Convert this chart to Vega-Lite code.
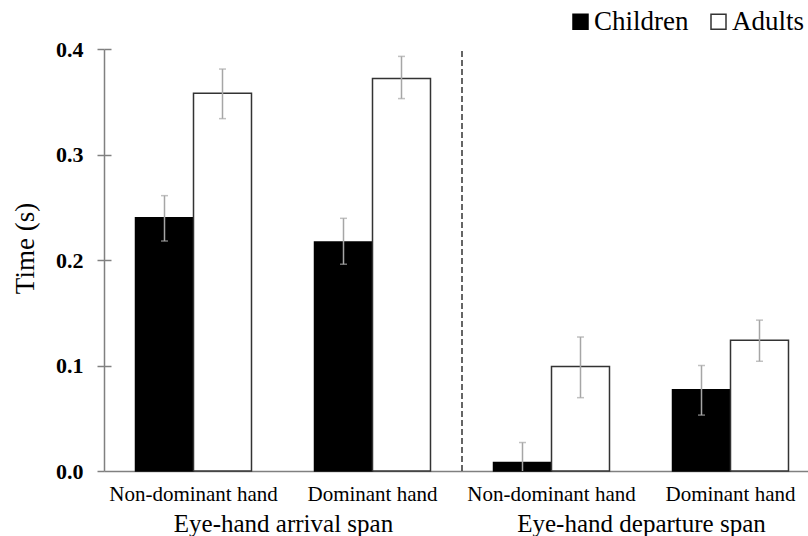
{
  "$schema": "https://vega.github.io/schema/vega-lite/v6.json",
  "width": 716,
  "height": 422,
  "autosize": {"type": "none"},
  "padding": {"left": 104, "top": 49, "right": 0, "bottom": 65},
  "background": "white",
  "config": {
    "font": "Liberation Serif",
    "view": {"stroke": null},
    "axis": {"grid": false, "domainColor": "#808080", "domainWidth": 1.5, "tickColor": "#808080", "tickWidth": 1.5, "labelColor": "black", "titleColor": "black", "labelFont": "Liberation Serif", "titleFont": "Liberation Serif"},
    "legend": {"labelFont": "Liberation Serif"}
  },
  "data": {"values": [
    {"cond": "Non-dominant hand|arrival", "group": "Children", "mean": 0.240, "lo": 0.218, "hi": 0.261},
    {"cond": "Non-dominant hand|arrival", "group": "Adults", "mean": 0.358, "lo": 0.334, "hi": 0.381},
    {"cond": "Dominant hand|arrival", "group": "Children", "mean": 0.217, "lo": 0.196, "hi": 0.2395},
    {"cond": "Dominant hand|arrival", "group": "Adults", "mean": 0.372, "lo": 0.353, "hi": 0.393},
    {"cond": "Non-dominant hand|departure", "group": "Children", "mean": 0.008, "lo": 0.0, "hi": 0.027},
    {"cond": "Non-dominant hand|departure", "group": "Adults", "mean": 0.099, "lo": 0.0695, "hi": 0.127},
    {"cond": "Dominant hand|departure", "group": "Children", "mean": 0.077, "lo": 0.053, "hi": 0.100},
    {"cond": "Dominant hand|departure", "group": "Adults", "mean": 0.124, "lo": 0.104, "hi": 0.143}
  ]},
  "layer": [
    {
      "encoding": {
        "x": {"field": "cond", "type": "nominal", "sort": ["Non-dominant hand|arrival", "Dominant hand|arrival", "Non-dominant hand|departure", "Dominant hand|departure"],
              "scale": {"paddingInner": 0.352, "paddingOuter": 0.176},
              "axis": {"title": null, "ticks": false, "labelAngle": 0, "labelFontSize": 21, "labelPadding": 12, "labelLimit": 0, "labelExpr": "split(datum.value, '|')[0]", "domainColor": "#808080"}},
        "xOffset": {"field": "group", "type": "nominal", "sort": ["Children", "Adults"], "scale": {"paddingInner": 0, "paddingOuter": 0}}
      },
      "layer": [
        {
          "mark": {"type": "bar", "strokeWidth": 1.5},
          "encoding": {
            "y": {"field": "mean", "type": "quantitative", "scale": {"domain": [0, 0.4]},
                  "axis": {"title": "Time (s)", "titleFontSize": 27, "titleFontWeight": "normal", "titlePadding": 16, "titleY": 199, "values": [0, 0.1, 0.2, 0.3, 0.4], "format": ".1f", "labelFontSize": 22, "labelFontWeight": "bold", "tickSize": 7, "labelPadding": 14}},
            "fill": {"field": "group", "type": "nominal", "sort": ["Children", "Adults"], "scale": {"domain": ["Children", "Adults"], "range": ["black", "white"]},
                     "legend": {"title": null, "orient": "none", "direction": "horizontal", "legendX": 463, "legendY": -41, "symbolType": "square", "symbolSize": 225, "symbolStrokeWidth": 1.5, "labelFontSize": 27, "labelOffset": 0, "columnPadding": 16, "padding": 0, "labelColor": "black", "labelLimit": 0}},
            "stroke": {"field": "group", "type": "nominal", "sort": ["Children", "Adults"], "scale": {"domain": ["Children", "Adults"], "range": ["black", "#333333"]}, "legend": null}
          }
        },
        {
          "mark": {"type": "rule", "color": "#a6a6a6", "strokeWidth": 1.5},
          "encoding": {"y": {"field": "lo", "type": "quantitative"}, "y2": {"field": "hi"}}
        },
        {
          "mark": {"type": "tick", "color": "#a6a6a6", "size": 7, "thickness": 1.5, "orient": "horizontal"},
          "encoding": {"y": {"field": "hi", "type": "quantitative"}}
        },
        {
          "mark": {"type": "tick", "color": "#a6a6a6", "size": 7, "thickness": 1.5, "orient": "horizontal"},
          "transform": [{"filter": "datum.lo > 0"}],
          "encoding": {"y": {"field": "lo", "type": "quantitative"}}
        }
      ]
    },
    {
      "data": {"values": [{"sep": 2, "y0": 0, "y1": 0.4}]},
      "mark": {"type": "rule", "color": "#333333", "strokeWidth": 1.5, "strokeDash": [6, 3]},
      "encoding": {
        "x": {"field": "sep", "type": "quantitative", "scale": {"domain": [0, 4], "nice": false, "zero": false},
              "axis": {"orient": "bottom", "title": null, "values": [1, 3], "ticks": false, "domain": false, "labelFontSize": 25, "labelPadding": 40, "labelLimit": 0, "labelExpr": "datum.value == 1 ? 'Eye-hand arrival span' : 'Eye-hand departure span'"}},
        "y": {"field": "y0", "type": "quantitative", "scale": {"domain": [0, 0.4]},
              "axis": {"orient": "left", "title": null, "labels": false, "domain": false, "values": [0.1, 0.2, 0.3, 0.4], "tickSize": -7}},
        "y2": {"field": "y1"}
      }
    }
  ],
  "resolve": {"scale": {"x": "independent", "y": "independent"}, "axis": {"x": "independent", "y": "independent"}}
}
